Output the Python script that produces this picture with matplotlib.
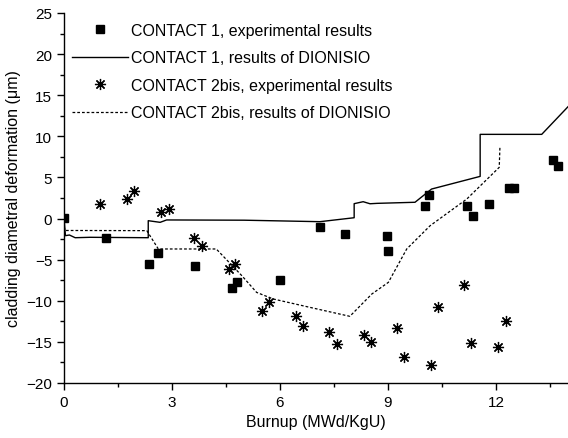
import matplotlib
matplotlib.use("Agg")
import matplotlib.pyplot as plt
from matplotlib.ticker import MultipleLocator

plt.rcParams['font.family'] = ['Liberation Sans', 'DejaVu Sans']

# CONTACT 1, experimental results
c1_exp_x = [0.0, 1.17, 2.35, 2.62, 3.63, 4.67, 4.81, 6.0, 7.10, 7.81, 8.97, 8.99,
            10.03, 10.14, 11.19, 11.36, 11.81, 12.37, 12.49, 13.59, 13.71]
c1_exp_y = [0.1, -2.35, -5.53, -4.17, -5.77, -8.45, -7.76, -7.5, -0.99, -1.88, -2.12, -3.95,
            1.49, 2.86, 1.49, 0.35, 1.73, 3.75, 3.75, 7.16, 6.43]

# CONTACT 1, results of DIONISIO
c1_sim_x = [0.0, 0.04, 0.15, 0.31, 0.72, 2.34, 2.34, 2.67, 2.85, 5.0, 7.11, 8.06, 8.06,
            8.31, 8.5, 8.7, 9.75, 10.21, 11.56, 11.56, 13.27, 14.0]
c1_sim_y = [0.0, -2.08, -2.0, -2.33, -2.28, -2.33, -0.26, -0.46, -0.17, -0.2, -0.38, 0.1, 1.81,
            2.05, 1.8, 1.85, 1.98, 3.59, 5.13, 10.24, 10.24, 13.6]

# CONTACT 2bis, experimental results
c2_exp_x = [1.01, 1.75, 1.95, 2.69, 2.93, 3.62, 3.82, 4.57, 4.74, 5.5, 5.69, 6.45, 6.63,
            7.36, 7.58, 8.32, 8.52, 9.26, 9.45, 10.2, 10.38, 11.11, 11.31, 12.06, 12.29]
c2_exp_y = [1.73, 2.42, 3.39, 0.76, 1.12, -2.33, -3.38, -6.17, -5.53, -11.24, -10.19, -11.89,
            -13.12, -13.8, -15.22, -14.16, -15.05, -13.27, -16.88, -17.81, -10.76, -8.08,
            -15.1, -15.58, -12.42]

# CONTACT 2bis, results of DIONISIO
c2_sim_x = [0.0, 0.03, 2.3, 2.62, 4.23, 4.94, 5.35, 5.81, 6.83, 7.94, 8.55, 9.01, 9.52,
            10.17, 11.19, 12.09, 12.11]
c2_sim_y = [-1.0, -1.45, -1.47, -3.7, -3.7, -6.95, -8.98, -9.78, -10.8, -11.89, -9.18,
            -7.76, -3.7, -0.87, 2.38, 6.23, 8.8]

fig = plt.figure(figsize=(5.68, 4.39), dpi=100)
ax = fig.add_axes([64/568, (439-384)/439, (568-64)/568, (384-14)/439])

ax.plot(c1_exp_x, c1_exp_y, linestyle='none', marker='s', markersize=5.8,
        color='black', label='CONTACT 1, experimental results')
ax.plot(c1_sim_x, c1_sim_y, linestyle='-', color='black', linewidth=1.0,
        label='CONTACT 1, results of DIONISIO')
ax.plot(c2_exp_x, c2_exp_y, linestyle='none', marker=(8, 2, 0), markersize=8,
        markeredgewidth=0.9, color='black', label='CONTACT 2bis, experimental results')
ax.plot(c2_exp_x, c2_exp_y, linestyle='none', marker='o', markersize=2.4,
        color='black')
ax.plot(c2_sim_x, c2_sim_y, linestyle=(0, (2.2, 1.6)), color='black', linewidth=0.9,
        label='CONTACT 2bis, results of DIONISIO')

ax.set_xlim(0, 14)
ax.set_ylim(-20, 25)
ax.xaxis.set_major_locator(MultipleLocator(3))
ax.xaxis.set_minor_locator(MultipleLocator(1.5))
ax.yaxis.set_major_locator(MultipleLocator(5))
ax.yaxis.set_minor_locator(MultipleLocator(2.5))
ax.tick_params(which='major', direction='out', length=5, width=1.0, labelsize=11)
ax.tick_params(which='minor', direction='out', length=3, width=1.0)
ax.spines['top'].set_visible(False)
ax.spines['right'].set_visible(False)
ax.spines['left'].set_linewidth(1.0)
ax.spines['bottom'].set_linewidth(1.0)
ax.patch.set_alpha(0)

ax.set_xlabel('Burnup (MWd/KgU)', fontsize=11.5, labelpad=4)
ax.set_ylabel('cladding diametral deformation (\u03bcm)', fontsize=11.5, labelpad=4)

handles, labels = ax.get_legend_handles_labels()
leg = fig.legend(handles, labels, loc='upper left', bbox_to_anchor=(72/568, 1 - 24/439),
                 frameon=False, fontsize=11.5, handlelength=3.5, handletextpad=0.2,
                 labelspacing=0.78, borderpad=0, borderaxespad=0, numpoints=1)

fig.savefig('out.png', dpi=100)
